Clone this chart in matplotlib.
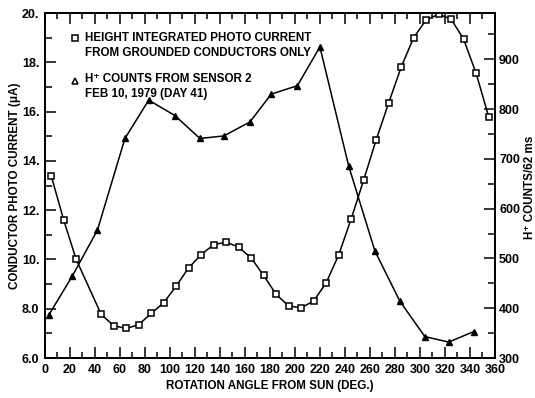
import matplotlib
matplotlib.use('Agg')
import matplotlib.pyplot as plt
from matplotlib.ticker import MultipleLocator, FixedLocator

plt.rcParams['font.family'] = ['Liberation Sans', 'DejaVu Sans']
plt.rcParams['font.weight'] = 'bold'
plt.rcParams['axes.labelweight'] = 'bold'
plt.rcParams['mathtext.default'] = 'bf'

# Height integrated photo current (left axis, uA)
angle_current = [5, 15, 25, 45, 55, 65, 75, 85, 95, 105, 115, 125, 135, 145,
                 155, 165, 175, 185, 195, 205, 215, 225, 235, 245, 255, 265,
                 275, 285, 295, 305, 315, 325, 335, 345, 355]
current = [13.4, 11.6, 10.0, 7.77, 7.31, 7.20, 7.35, 7.81, 8.24, 8.92, 9.66,
           10.2, 10.6, 10.7, 10.5, 10.06, 9.35, 8.58, 8.11, 8.04, 8.31, 9.05,
           10.18, 11.64, 13.22, 14.85, 16.35, 17.8, 19.0, 19.72, 19.95,
           19.75, 18.94, 17.55, 15.8]

# H+ counts from sensor 2 (right axis, counts / 62 ms)
angle_counts = [3, 22, 42, 64, 83, 104, 124, 143, 164, 181, 202, 220, 243,
                264, 284, 304, 323, 343]
counts = [386, 465, 557, 741, 818, 787, 741, 746, 774, 830, 847, 925, 686,
          515, 414, 343, 332, 353]

left_ticks = [6, 8, 10, 12, 14, 16, 18, 20]
left_labels = ['6.0', '8.0', '10.', '12.', '14.', '16.', '18.', '20.']
right_ticks = [300, 400, 500, 600, 700, 800, 900]

fig = plt.figure(figsize=(5.35, 3.98), dpi=100)
ax = fig.add_axes([0.084, 0.1005, 0.841, 0.8668])
ax2 = ax.twinx()

lw = 1.1
ax.plot(angle_current, current, color='black', lw=lw, marker='s', ms=5,
        mfc='white', mec='black', mew=1.1, zorder=3)
ax2.plot(angle_counts, counts, color='black', lw=lw, marker='^', ms=5,
         mfc='black', mec='black', zorder=3)

ax.set_xlim(0, 360)
ax.set_ylim(6, 20)
ax2.set_ylim(300, 993)

ax.xaxis.set_major_locator(MultipleLocator(20))
ax.xaxis.set_minor_locator(MultipleLocator(10))
ax.yaxis.set_major_locator(FixedLocator(left_ticks))
ax.set_yticklabels(left_labels)
ax.yaxis.set_minor_locator(MultipleLocator(1))
ax2.yaxis.set_major_locator(FixedLocator(right_ticks))
ax2.yaxis.set_minor_locator(MultipleLocator(50))

ax.tick_params(axis='x', which='both', direction='in', top=True, width=1.1,
               labelsize=9, pad=4)
ax.tick_params(axis='x', which='major', length=8)
ax.tick_params(axis='x', which='minor', length=4)
ax.tick_params(axis='y', which='both', direction='in', width=1.1, labelsize=9,
               pad=4)
ax.tick_params(axis='y', which='major', length=8)
ax.tick_params(axis='y', which='minor', length=5)
ax2.tick_params(axis='y', which='both', direction='in', width=1.1,
                labelsize=9, pad=3)
ax2.tick_params(axis='y', which='major', length=8)
ax2.tick_params(axis='y', which='minor', length=5)

for a in (ax, ax2):
    for s in a.spines.values():
        s.set_linewidth(1.3)

ax.set_xlabel('ROTATION ANGLE FROM SUN (DEG.)', fontsize=8.4, labelpad=3)
fig.text(0.028, 0.533, 'CONDUCTOR PHOTO CURRENT (\u03bcA)', fontsize=8.4,
         rotation=90, ha='center', va='center')
fig.text(0.99, 0.53, 'H\u207a COUNTS/62 ms', fontsize=8.4,
         rotation=90, ha='center', va='center')

# legend keys
ax.plot([0.067], [0.928], transform=ax.transAxes, marker='s', ms=4.5,
        mfc='white', mec='black', mew=1.1, ls='none')
ax.plot([0.067], [0.803], transform=ax.transAxes, marker='^', ms=4.5,
        mfc='white', mec='black', mew=1.1, ls='none')
ax.text(0.089, 0.945, 'HEIGHT INTEGRATED PHOTO CURRENT\nFROM GROUNDED CONDUCTORS ONLY',
        transform=ax.transAxes, fontsize=8.4, va='top', ha='left',
        linespacing=1.3)
ax.text(0.089, 0.825, 'H\u207a COUNTS FROM SENSOR 2\nFEB 10, 1979 (DAY 41)',
        transform=ax.transAxes, fontsize=8.4, va='top', ha='left',
        linespacing=1.3)

fig.savefig('out.png', dpi=100)
